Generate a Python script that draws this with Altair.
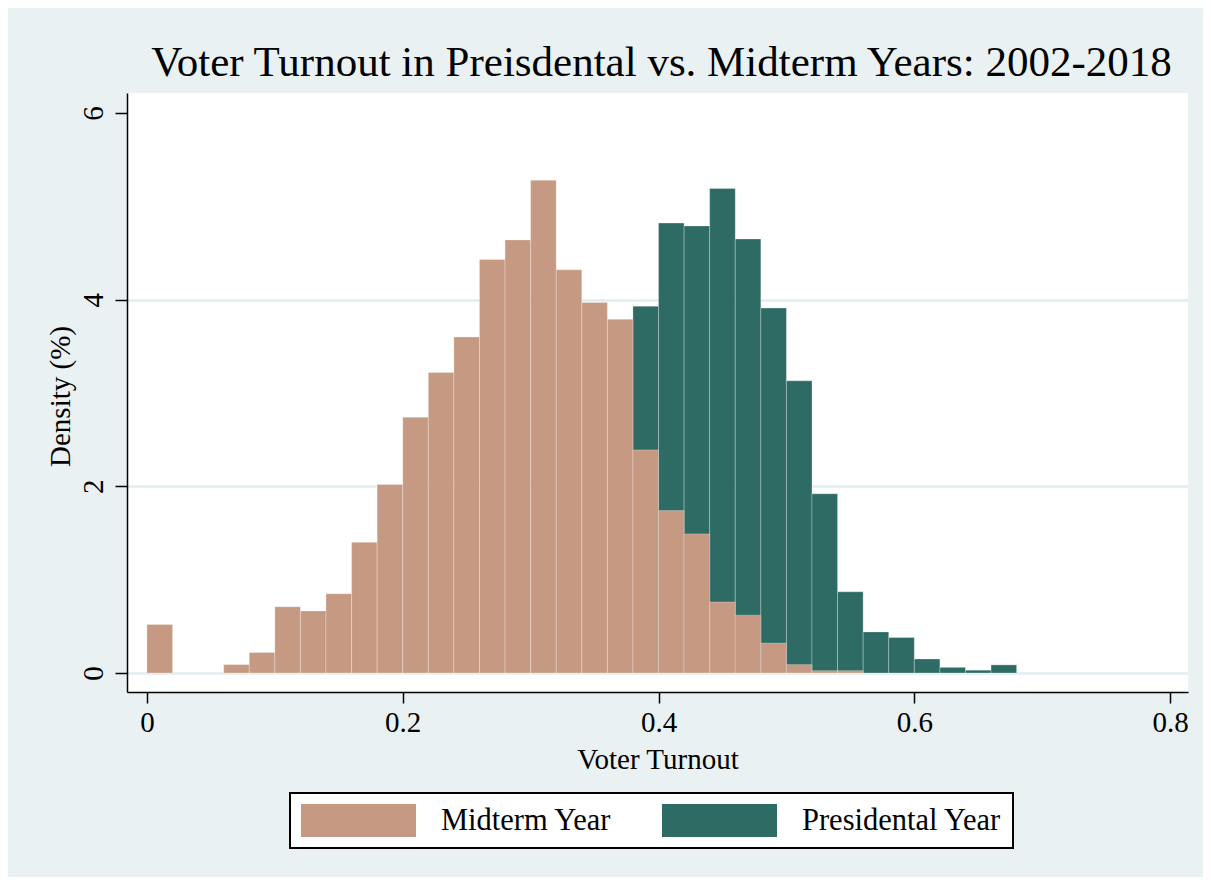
import altair as alt
import pandas as pd

# Histogram bins (width 0.02), densities
bin_width = 0.02
midterm_start = [0.00, 0.06, 0.08, 0.10, 0.12, 0.14, 0.16, 0.18, 0.20, 0.22, 0.24,
                 0.26, 0.28, 0.30, 0.32, 0.34, 0.36, 0.38, 0.40, 0.42, 0.44, 0.46,
                 0.48, 0.50, 0.52, 0.54]
midterm_density = [0.52, 0.09, 0.22, 0.71, 0.665, 0.85, 1.40, 2.02, 2.74, 3.22, 3.60,
                   4.43, 4.64, 5.28, 4.32, 3.97, 3.79, 2.39, 1.74, 1.49, 0.76, 0.62,
                   0.32, 0.09, 0.025, 0.025]
pres_start = [0.38, 0.40, 0.42, 0.44, 0.46, 0.48, 0.50, 0.52, 0.54, 0.56, 0.58,
              0.60, 0.62, 0.64, 0.66]
pres_density = [3.93, 4.82, 4.79, 5.19, 4.65, 3.91, 3.13, 1.92, 0.87, 0.44, 0.38,
                0.15, 0.06, 0.03, 0.087]

groups = ["Midterm Year", "Presidental Year"]
colors = ["#C69982", "#2E6B65"]
x_ticks = [0, 0.2, 0.4, 0.6, 0.8]
y_ticks = [0, 2, 4, 6]

rows = []
for s, d in zip(pres_start, pres_density):
    rows.append({"group": groups[1], "start": s, "end": s + bin_width, "density": d, "ord": 0})
for s, d in zip(midterm_start, midterm_density):
    rows.append({"group": groups[0], "start": s, "end": s + bin_width, "density": d, "ord": 1})
df = pd.DataFrame(rows)

FONT = "Liberation Serif"
W, H = 1061, 599

chart = alt.Chart(df).mark_rect(strokeWidth=0.8, strokeOpacity=0.35, stroke="white").encode(
    x=alt.X("start:Q",
            scale=alt.Scale(domain=[-0.0156, 0.814], nice=False, zero=False),
            axis=alt.Axis(values=x_ticks, format=".1~f", title="Voter Turnout",
                          grid=False, tickSize=11, tickColor="black", tickWidth=1.5,
                          domainColor="black", domainWidth=1.5,
                          labelFont=FONT, labelFontSize=29, labelColor="black",
                          labelPadding=5, labelBaseline="top",
                          titleFont=FONT, titleFontSize=29, titleFontWeight="normal",
                          titleColor="black", titleBaseline="alphabetic", titleY=76)),
    x2="end:Q",
    y=alt.Y("density:Q",
            scale=alt.Scale(domain=[-0.2036, 6.214], nice=False, zero=False),
            axis=alt.Axis(values=y_ticks, title="Density (%)",
                          grid=True, gridColor="#E3ECEF", gridWidth=2.5,
                          gridOpacity={"condition": {"test": "datum.value >= 6", "value": 0}, "value": 1},
                          tickSize=12, tickColor="black", tickWidth=1.5,
                          domainColor="black", domainWidth=1.5,
                          labelFont=FONT, labelFontSize=29, labelColor="black",
                          labelAngle=270, labelAlign="center", labelBaseline="alphabetic",
                          labelPadding=13,
                          titleFont=FONT, titleFontSize=29, titleFontWeight="normal",
                          titleColor="black", titleAngle=270, titleAlign="center",
                          titleBaseline="alphabetic", titleX=-58, titleY=303)),
    y2=alt.datum(0),
    color=alt.Color("group:N",
                    scale=alt.Scale(domain=groups, range=colors),
                    legend=alt.Legend(orient="none", legendX=163, legendY=700,
                                      direction="horizontal", title=None,
                                      symbolType="M-1,-1H5.97V1H-1Z",
                                      symbolSize=1089, symbolStrokeWidth=0,
                                      symbolOpacity=1,
                                      labelFont=FONT, labelFontSize=30.5,
                                      labelColor="black", labelOffset=107,
                                      labelLimit=400, columnPadding=50,
                                      padding=11, strokeColor="black",
                                      fillColor="white")),
    order=alt.Order("ord:Q"),
).properties(
    width=W, height=H,
    title=alt.TitleParams(text="Voter Turnout in Preisdental vs. Midterm Years: 2002-2018",
                          font=FONT, fontSize=43, fontWeight="normal", color="black",
                          anchor="middle", baseline="alphabetic", offset=15, dx=4, dy=41),
    background="#EAF1F3",
    padding={"left": 119, "top": 85, "right": 15, "bottom": 185},
    autosize=alt.AutoSizeParams(type="none"),
).configure_view(
    fill="white", stroke=None
).configure_legend(strokeWidth=2)

chart.save("out.html", embed_options={"renderer": "svg", "actions": False})
